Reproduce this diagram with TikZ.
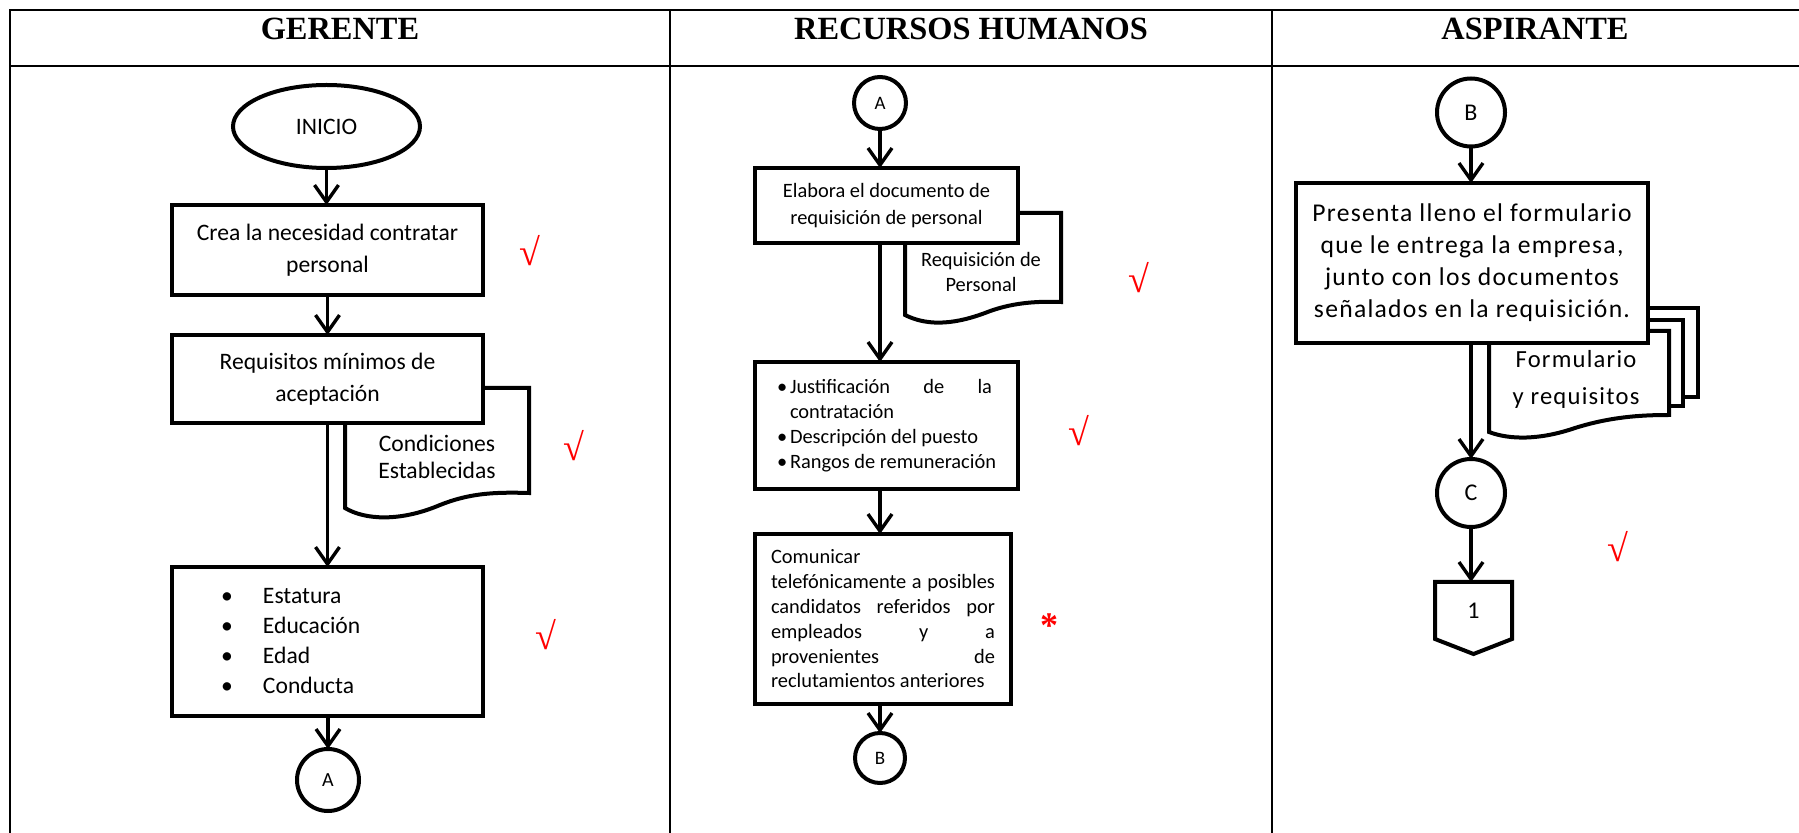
\documentclass[tikz,border=0pt]{standalone}
\usepackage{fontspec}
\setmainfont{Carlito}
\newfontfamily\hdrfont{Liberation Serif}
\newfontfamily\aspfont[LetterSpace=5]{Carlito}
\usetikzlibrary{arrows.meta,shapes.geometric,calc}
\begin{document}
\begin{tikzpicture}[x=0.5pt,y=-0.5pt,
  every node/.style={inner sep=0pt,outer sep=0pt},
  lane/.style={line width=1.1pt},
  hdr/.style={font=\hdrfont\bfseries\fontsize{16.2}{18}\selectfont, anchor=base},
  box/.style={draw,line width=2pt,fill=white,rectangle},
  conn/.style={draw,line width=2pt,circle,fill=white},
  flow/.style={line width=1.7pt,-{Straight Barb[length=8.5pt,width=12pt]}},
  doc/.style={draw,line width=2pt,fill=white,line join=miter},
  chk/.style={text=red,font=\hdrfont\fontsize{19}{19}\selectfont},
  gtxt/.style={font=\fontsize{11.8}{16}\selectfont},
  rtxt/.style={font=\fontsize{10.2}{13.5}\selectfont},
]
\useasboundingbox (0,0) rectangle (1799,833);
% lanes
\draw[lane] (10,833) -- (10,10) -- (1799,10);
\draw[lane] (10,66) -- (1799,66);
\draw[lane] (670,10) -- (670,833);
\draw[lane] (1272,10) -- (1272,833);
\node[hdr] (hG) at (340,40) {GERENTE};
\node[hdr] (hR) at (971,40) {RECURSOS HUMANOS};
\node[hdr] (hA) at (1535,40) {ASPIRANTE};

% ---------- GERENTE ----------
\draw[doc] (345,400) -- (345,508) .. controls (365,520) and (400,522) .. (440,505) .. controls (470,493) and (495,492) .. (529,493) -- (529,388) -- (400,388) -- cycle;
\node[font=\fontsize{11.8}{13.5}\selectfont,align=center] (dG) at (437,457) {Condiciones\\Establecidas};
\node[draw,ellipse,line width=2pt,minimum width=93.5pt,minimum height=41.5pt,gtxt] (ini) at (326.5,126.5) {INICIO};
\node[box,minimum width=155.5pt,minimum height=45pt,gtxt,align=center] (g1) at (327.5,250) {Crea la necesidad contratar\\personal};
\node[box,minimum width=155.5pt,minimum height=44pt,gtxt,align=center] (g2) at (327.5,379) {Requisitos mínimos de\\aceptación};
\node[box,minimum width=155.5pt,minimum height=74.5pt] (g3) at (327.5,641.5) {};
\node[font=\fontsize{11.8}{15}\selectfont,align=left,anchor=west] (g3t) at (221,641) {\makebox[21pt][l]{\textbullet}Estatura\\\makebox[21pt][l]{\textbullet}Educación\\\makebox[21pt][l]{\textbullet}Edad\\\makebox[21pt][l]{\textbullet}Conducta};
\node[conn,minimum size=31pt,font=\fontsize{10}{12}\selectfont] (gA) at (328,780) {A};
\draw[flow] (ini.south) -- (ini.south |- g1.north);
\draw[flow] (g1.south) -- (g2.north);
\draw[flow] (g2.south) -- (g3.north);
\draw[flow] (g3.south -| gA) -- (gA.north);

% ---------- RECURSOS HUMANOS ----------
\draw[doc] (905,230) -- (905,315) .. controls (925,325) and (950,326) .. (985,313) .. controls (1010,303) and (1035,301) .. (1061,302) -- (1061,213) -- (960,213) -- cycle;
\node[font=\fontsize{10.2}{12.5}\selectfont,align=center] (dR) at (981,272) {Requisición de\\Personal};
\node[conn,minimum size=26pt,font=\fontsize{9.5}{11}\selectfont] (rA) at (880,103) {A};
\node[box,minimum width=131.5pt,minimum height=37.5pt,rtxt,align=center] (r1) at (886.5,205.5) {Elabora el documento de\\requisición de personal};
\node[box,minimum width=131.5pt,minimum height=63.5pt,font=\fontsize{10.2}{12.5}\selectfont,align=left] (r2) at (886.5,425.5) {\makebox[6.5pt][l]{\textbullet}\makebox[101pt][s]{Justificación de la}\\\hspace*{6.5pt}contratación\\\makebox[6.5pt][l]{\textbullet}Descripción del puesto\\\makebox[6.5pt][l]{\textbullet}Rangos de remuneración};
\node[box,minimum width=128pt,minimum height=85pt,font=\fontsize{10.2}{12.4}\selectfont,align=left] (r3) at (883,619) {Comunicar\\\makebox[112pt][s]{telefónicamente a posibles}\\\makebox[112pt][s]{candidatos referidos por}\\\makebox[112pt][s]{empleados y a}\\\makebox[112pt][s]{provenientes de}\\reclutamientos anteriores};
\node[conn,minimum size=25pt,font=\fontsize{9.5}{11}\selectfont] (rB) at (880,758) {B};
\draw[flow] (rA.south) -- (r1.north -| rA);
\draw[flow] (r1.south -| rA) -- (r2.north -| rA);
\draw[flow] (r2.south -| rA) -- (r3.north -| rA);
\draw[flow] (r3.south -| rB) -- (rB.north);

% ---------- ASPIRANTE ----------
\draw[doc] (1517,308) rectangle (1698,397);
\draw[doc] (1503,320) rectangle (1683,406);
\draw[doc] (1489,331) -- (1489,432) .. controls (1510,440) and (1540,440) .. (1575,428) .. controls (1610,417) and (1640,415) .. (1669,415) -- (1669,331) -- cycle;
\node[font=\aspfont\fontsize{12.3}{18.5}\selectfont,align=center] (dA) at (1576,379) {Formulario\\y requisitos};
\node[conn,minimum size=34pt,font=\fontsize{12}{14}\selectfont] (aB) at (1471,112.5) {B};
\node[box,minimum width=176pt,minimum height=80pt,font=\aspfont\fontsize{12.8}{16}\selectfont,align=center] (a1) at (1472,263) {Presenta lleno el formulario\\que le entrega la empresa,\\junto con los documentos\\señalados en la requisición.};
\node[conn,minimum size=34pt,font=\fontsize{12}{14}\selectfont] (aC) at (1471,493) {C};
\node[minimum width=38.5pt,minimum height=28.5pt,font=\fontsize{12}{14}\selectfont] (a1p) at (1473.5,610.5) {1};
\draw[line width=2pt,line join=miter] (a1p.north west) -- (a1p.north east) -- (a1p.south east) -- ($(a1p.south)+(0,15)$) -- (a1p.south west) -- cycle;
\draw[flow] (aB.south) -- (a1.north -| aB);
\draw[flow] (a1.south -| aC) -- (aC.north);
\draw[flow] (aC.south) -- (a1p.north -| aC);

% ---------- marks ----------
\node[chk] (k1) at (530,251) {√};
\node[chk] (k2) at (574,446) {√};
\node[chk] (k3) at (546,635) {√};
\node[chk] (k4) at (1139,278) {√};
\node[chk] (k5) at (1079,431) {√};
\node[chk] (k6) at (1618,547) {√};
\node[text=red,font=\hdrfont\bfseries\fontsize{18}{18}\selectfont] (ast) at (1049,626) {*};
\end{tikzpicture}
\end{document}
